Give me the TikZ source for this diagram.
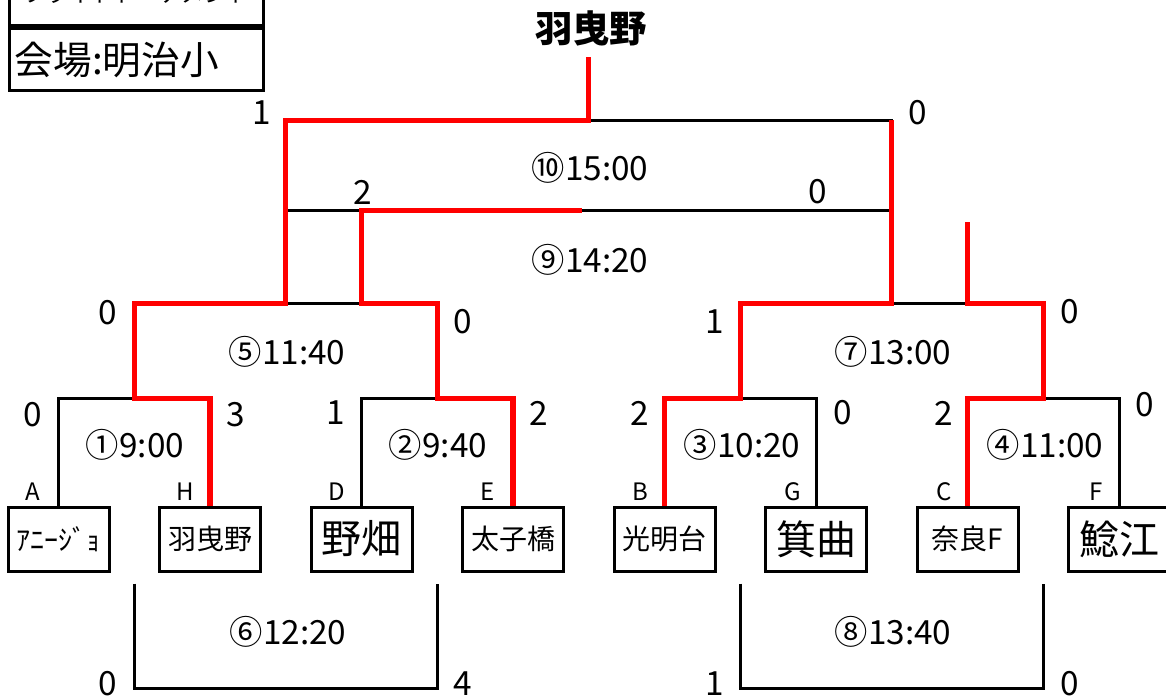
\documentclass[tikz,border=0pt]{standalone}
\usepackage{fontspec}
\setmainfont{Noto Sans CJK JP}
\tikzstyle{team} = [rectangle, draw, line width=2.25pt, minimum width=75.75pt,
minimum height=48pt, inner sep=0pt, font=\fontsize{21}{21}\selectfont]
\tikzstyle{bigteam} = [team, font=\fontsize{30}{30}\selectfont]
\tikzstyle{info} = [rectangle, draw, line width=2.25pt, minimum width=190.5pt,
minimum height=46.5pt, inner xsep=4pt, text width=182.5pt]
\tikzstyle{champ} = [inner sep=8pt, font=\fontsize{28}{28}\selectfont\bfseries]
\tikzstyle{score} = [inner sep=0pt, font=\fontsize{25}{25}\selectfont]
\tikzstyle{match} = [inner sep=0pt, font=\fontsize{25}{25}\selectfont]
\tikzstyle{slot} = [inner sep=0pt, font=\fontsize{18}{18}\selectfont]
\tikzstyle{bracket} = [draw, line width=2.25pt]
\tikzstyle{win} = [draw, red, line width=4pt]

\begin{document}
\begin{tikzpicture}[x=0.75pt, y=-0.75pt, node distance=113.625pt]
\useasboundingbox (0,0) rectangle (1166,698);

% info box
\node [info, align=left, anchor=north west, font=\fontsize{29}{29}\selectfont] (venue) at (8,27) {会場:明治小};
\node [info, align=center, anchor=south west, font=\fontsize{17}{17}\selectfont] (title) at (8,27) {フライトトーナメント};
\node [champ] (champ) at (591,28) {羽曳野};

% teams
\node [team] (tA) at (58.5,539) {ｱﾆｰｼﾞｮ};
\node [team, right of=tA] (tH) {羽曳野};
\node [bigteam, right of=tH] (tD) {野畑};
\node [team, right of=tD] (tE) {太子橋};
\node [team, right of=tE] (tB) {光明台};
\node [bigteam, right of=tB] (tG) {箕曲};
\node [team, right of=tG] (tC) {奈良F};
\node [bigteam, right of=tC] (tF) {鯰江};

% bracket corners
\path (tA.north) -- (tH.north) coordinate[midway, yshift=80.25pt] (m1);
\path (tD.north) -- (tE.north) coordinate[midway, yshift=80.25pt] (m2);
\path (tB.north) -- (tG.north) coordinate[midway, yshift=80.25pt] (m3);
\path (tC.north) -- (tF.north) coordinate[midway, yshift=80.25pt] (m4);
\path (m1) -- (m2) coordinate[midway, yshift=71.25pt] (m5);
\path (m3) -- (m4) coordinate[midway, yshift=71.25pt] (m7);
\path (m5) -- (m7) coordinate[midway, yshift=69.75pt] (m9);
\path (m5) -- (m7) coordinate[midway, yshift=137.25pt] (m10);
\path (m1) ++(0,185) coordinate (l6a) (m2) ++(0,185) coordinate (l6b);
\path (m3) ++(0,185) coordinate (l8a) (m4) ++(0,185) coordinate (l8b);

% lines
\draw [bracket] (tA.north) |- (m1) -| (tH.north);
\draw [bracket] (tD.north) |- (m2) -| (tE.north);
\draw [bracket] (tB.north) |- (m3) -| (tG.north);
\draw [bracket] (tC.north) |- (m4) -| (tF.north);
\draw [bracket] (m1) |- (m5) -| (m2);
\draw [bracket] (m3) |- (m7) -| (m4);
\draw [bracket] (m5) |- (m10) -| (m7);
\draw [bracket] (m5 |- m9) -- (m7 |- m9);
\draw [bracket] (l6a) -- ++(0,105) -| (l6b);
\draw [bracket] (l8a) -- ++(0,105) -| (l8b);

% winners
\draw [win] (tH.north) |- (m1) |- (m5) |- (m10) -- (m10 |- champ.south);
\draw [win] (tE.north) |- (m2) |- (tD |- m5) -- (tD |- m9) -- ++(220,0);
\draw [win] (tB.north) |- (m3) |- (m7) -- (m7 |- m10);
\draw [win] (tC.north) |- (m4) |- (tC |- m7) -- ++(0,-81);

% slots
\node [slot] (lA) at (33,492) {A};
\node [slot] (lH) at (185,492) {H};
\node [slot] (lD) at (337,492) {D};
\node [slot] (lE) at (488,492) {E};
\node [slot] (lB) at (640,492) {B};
\node [slot] (lG) at (793,492) {G};
\node [slot] (lC) at (944,492) {C};
\node [slot] (lF) at (1096,492) {F};

% match times
\node [match] (g1) at (135,445) {①9:00};
\node [match] (g2) at (438,445) {②9:40};
\node [match] (g3) at (742,445) {③10:20};
\node [match] (g4) at (1045,445) {④11:00};
\node [match] (g5) at (287,352) {⑤11:40};
\node [match] (g7) at (893,352) {⑦13:00};
\node [match] (g9) at (590,260) {⑨14:20};
\node [match] (g10) at (590,168) {⑩15:00};
\node [match] (g6) at (288,632) {⑥12:20};
\node [match] (g8) at (893,632) {⑧13:40};

% scores
\node [score] (s1a) at (33,415) {0};
\node [score] (s1b) at (236,415) {3};
\node [score] (s2a) at (336,413) {1};
\node [score] (s2b) at (539,413) {2};
\node [score] (s3a) at (640,413) {2};
\node [score] (s3b) at (843,413) {0};
\node [score] (s4a) at (944,413) {2};
\node [score] (s4b) at (1145,405) {0};
\node [score] (s5a) at (108,313) {0};
\node [score] (s5b) at (463,322) {0};
\node [score] (s7a) at (715,322) {1};
\node [score] (s7b) at (1070,312) {0};
\node [score] (s9a) at (363,192) {2};
\node [score] (s9b) at (818,192) {0};
\node [score] (s10a) at (262,113) {1};
\node [score] (s10b) at (918,113) {0};
\node [score] (s6a) at (108,684) {0};
\node [score] (s6b) at (463,684) {4};
\node [score] (s8a) at (715,684) {1};
\node [score] (s8b) at (1070,684) {0};
\end{tikzpicture}
\end{document}
